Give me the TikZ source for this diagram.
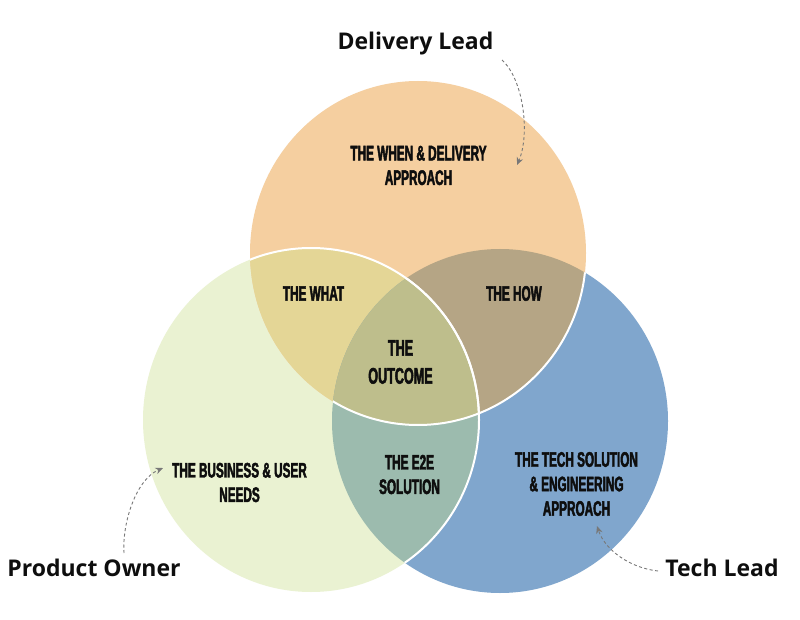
\documentclass[tikz,border=0pt]{standalone}
\usepackage{fontspec}
\setmainfont{Open Sans}
\newfontfamily\condfont[FakeStretch=0.56,FakeBold=2.2]{Liberation Sans}
\usetikzlibrary{arrows.meta}
\definecolor{cTop}{RGB}{245,207,160}
\definecolor{cGreen}{RGB}{234,242,210}
\definecolor{cBlue}{RGB}{128,166,205}
\definecolor{cTG}{RGB}{228,214,150}
\definecolor{cTB}{RGB}{181,165,133}
\definecolor{cGB}{RGB}{156,187,174}
\definecolor{cAll}{RGB}{190,190,140}
\definecolor{cText}{RGB}{14,14,14}
\definecolor{cArrow}{RGB}{120,120,120}
\begin{document}
\begin{tikzpicture}[x=1pt,y=-1pt,
  lbl/.style={font=\condfont\bfseries\fontsize{21}{24.5}\selectfont, align=center, inner sep=0pt, text=cText},
  biglbl/.style={lbl, font=\condfont\bfseries\fontsize{22.5}{28}\selectfont},
  role/.style={font=\bfseries\fontsize{23}{28}\selectfont, inner sep=0pt, text=cText, anchor=base},
  arr/.style={draw=cArrow, line width=0.9pt, dash pattern=on 3pt off 2.5pt, -{Stealth[length=7.5pt,width=6.5pt]}},
  rim/.style={draw=white, line width=2pt}]
\useasboundingbox (0,0) rectangle (800,620);
\fill[white] (0,0) rectangle (800,620);
\def\topC{(418,253) ellipse [x radius=168pt, y radius=172pt]}
\def\greenC{(311,420) ellipse [x radius=168pt, y radius=172pt]}
\def\blueC{(500,421) ellipse [x radius=168pt, y radius=172pt]}
% base fills
\fill[cBlue] \blueC;
\fill[cGreen] \greenC;
\fill[cTop] \topC;
% overlaps
\begin{scope} \clip \topC; \fill[cTG] \greenC; \end{scope}
\begin{scope} \clip \topC; \fill[cTB] \blueC; \end{scope}
\begin{scope} \clip \greenC; \fill[cGB] \blueC; \end{scope}
\begin{scope} \clip \topC; \clip \greenC; \fill[cAll] \blueC; \end{scope}
% white rims
\begin{scope} \clip \blueC; \path[rim] \topC; \end{scope}
\begin{scope} \clip \topC; \path[rim] \greenC; \end{scope}
\begin{scope} \clip \blueC; \path[rim] \greenC; \end{scope}
% labels
\node[lbl] (when) at (418.5,165.5) {THE WHEN \& DELIVERY\\APPROACH};
\node[lbl] (what) at (313.5,293.5) {THE WHAT};
\node[lbl] (how) at (514,293.5) {THE HOW};
\node[biglbl] (outcome) at (400.5,362) {THE\\OUTCOME};
\node[lbl] (business) at (239.5,482.5) {THE BUSINESS \& USER\\NEEDS};
\node[lbl] (e2e) at (409.5,474.5) {THE E2E\\SOLUTION};
\node[lbl] (tech) at (576.5,484) {THE TECH SOLUTION\\\& ENGINEERING\\APPROACH};
% roles
\node[role] (dl) at (415.5,50) {Delivery Lead};
\node[role] (po) at (94,576.7) {Product Owner};
\node[role] (tl) at (722,576) {Tech Lead};
% arrows
\coordinate (dlS) at (502,60);
\coordinate (dlE) at (517,165);
\coordinate (poS) at (124,553);
\coordinate (poE) at (163,468);
\coordinate (tlS) at (658,571);
\coordinate (tlE) at (597,526);
\draw[arr] (dlS) .. controls (524,80) and (530,135) .. (dlE);
\draw[arr] (poS) .. controls (122,525) and (135,480) .. (poE);
\draw[arr] (tlS) .. controls (630,568) and (605,550) .. (tlE);
\end{tikzpicture}
\end{document}
